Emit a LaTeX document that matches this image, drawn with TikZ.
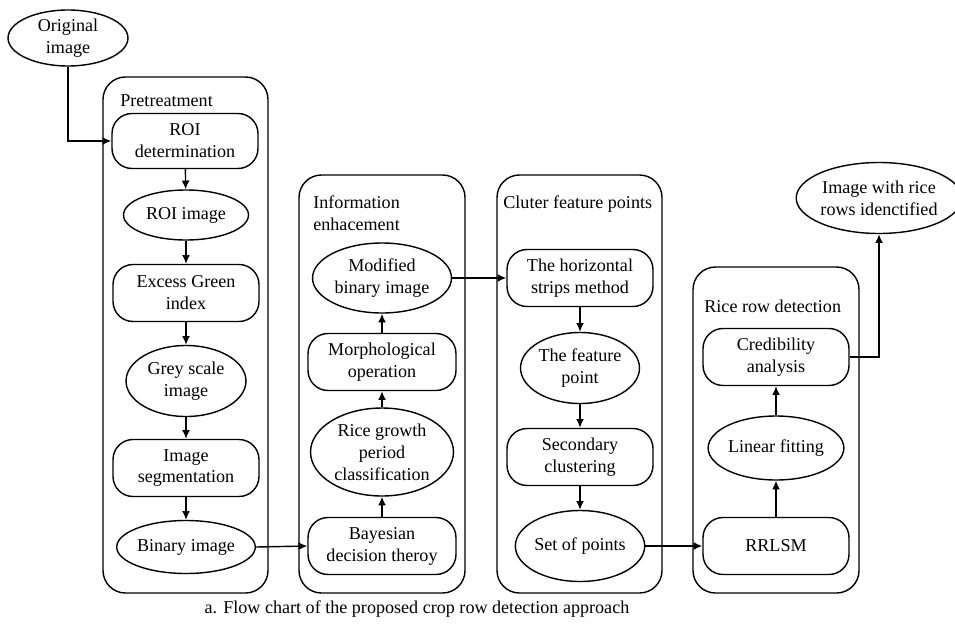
\documentclass[tikz,border=0pt]{standalone}
\usepackage{fontspec}
\setmainfont{Liberation Serif}
\usetikzlibrary{shapes.geometric, arrows.meta}
\tikzset{
	procbox/.style={draw, line width=0.8pt, rounded corners=0.4cm, align=center, minimum width=2.92cm, minimum height=1.14cm, inner sep=1pt},
	databox/.style={draw, line width=0.8pt, ellipse, align=center, inner sep=0pt},
	stagebox/.style={draw, line width=0.8pt, rounded corners=0.45cm},
	flow/.style={line width=0.8pt, -{Latex[length=5pt, width=4.5pt]}}
}

\begin{document}
\begin{tikzpicture}[x=0.02cm, y=-0.02cm, font=\fontsize{10.3}{12.5}\selectfont\rmfamily]
	\useasboundingbox (0,0) rectangle (955,625);
	
	% stages
	\draw[stagebox] (103,77) rectangle (268,593);
	\draw[stagebox] (299,175) rectangle (465,593);
	\draw[stagebox] (497,175) rectangle (662,593);
	\draw[stagebox] (693,267) rectangle (859,593);
	\node[anchor=west, inner sep=0] (pretitle) at (120,101) {Pretreatment};
	\node[anchor=west, inner sep=0, align=left] (infotitle) at (313,213) {Information\\enhacement};
	\node[anchor=west, inner sep=0] (clustitle) at (503,204) {Cluter feature points};
	\node[anchor=west, inner sep=0] (ricetitle) at (704,306) {Rice row detection};
	
	% pretreatment
	\node[databox, minimum width=2.4cm, minimum height=1.12cm] (orig) at (68,38) {Original\\image};
	\node[procbox, minimum height=1.1cm] (roidet) at (185,141) {ROI\\determination};
	\node[databox, minimum width=2.5cm, minimum height=1.0cm] (roiimg) at (186,215) {ROI image};
	\node[procbox] (excess) at (186,293) {Excess Green\\index};
	\node[databox, minimum width=2.4cm, minimum height=1.42cm] (grey) at (186,381) {Grey scale\\image};
	\node[procbox] (seg) at (186,468) {Image\\segmentation};
	\node[databox, minimum width=2.76cm, minimum height=1.06cm] (binary) at (186,547) {Binary image};
	
	% information enhacement
	\node[procbox, minimum width=2.96cm] (bayes) at (382,546) {Bayesian\\decision theroy};
	\node[databox, minimum width=2.86cm, minimum height=1.76cm] (growth) at (382,452) {Rice growth\\period\\classification};
	\node[procbox, minimum width=2.96cm] (morph) at (382,362) {Morphological\\operation};
	\node[databox, minimum width=2.78cm, minimum height=1.4cm] (modified) at (382,278) {Modified\\binary image};
	
	% cluter feature points
	\node[procbox] (strips) at (580,278) {The horizontal\\strips method};
	\node[databox, minimum width=2.38cm, minimum height=1.42cm] (feature) at (580,368) {The feature\\point};
	\node[procbox] (second) at (580,457) {Secondary\\clustering};
	\node[databox, minimum width=2.38cm, minimum height=1.42cm] (pointset) at (580,546) {Set of points};
	
	% rice row detection
	\node[procbox] (rrlsm) at (776,546) {RRLSM};
	\node[databox, minimum width=2.66cm, minimum height=1.28cm] (linfit) at (776,448) {Linear fitting};
	\node[procbox] (cred) at (776,357) {Credibility\\analysis};
	\node[databox, minimum width=3.08cm, minimum height=1.42cm] (result) at (879,198) {Image with rice\\rows idenctified};
	
	% connectors
	\draw[flow] (orig.south) |- (roidet.west);
	\draw[flow] (roidet) -- (roiimg);
	\draw[flow] (roiimg) -- (excess);
	\draw[flow] (excess) -- (grey);
	\draw[flow] (grey) -- (seg);
	\draw[flow] (seg) -- (binary);
	\draw[flow] (binary.east) -- (bayes.west);
	\draw[flow] (bayes) -- (growth);
	\draw[flow] (growth) -- (morph);
	\draw[flow] (morph) -- (modified);
	\draw[flow] (modified.east) -- (strips.west);
	\draw[flow] (strips) -- (feature);
	\draw[flow] (feature) -- (second);
	\draw[flow] (second) -- (pointset);
	\draw[flow] (pointset.east) -- (rrlsm.west);
	\draw[flow] (rrlsm) -- (linfit);
	\draw[flow] (linfit) -- (cred);
	\draw[flow] (cred.east) -| (result.south);
	
	\node (caption) at (417,609) {a. Flow chart of the proposed crop row detection approach};
\end{tikzpicture}
\end{document}
